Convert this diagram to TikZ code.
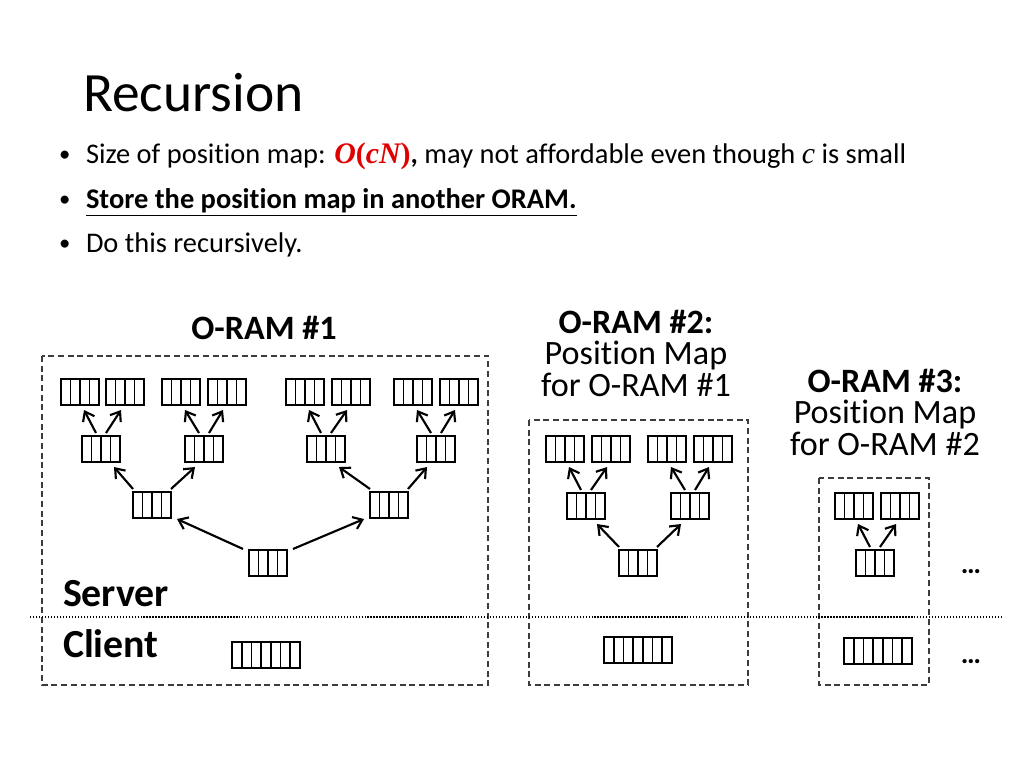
\documentclass[tikz,border=0pt]{standalone}
\usepackage{fontspec}
\setmainfont{Carlito}[Ligatures=NoCommon]
\newfontfamily\serifmath{Liberation Serif}
\usetikzlibrary{calc,arrows.meta}
\definecolor{ored}{RGB}{225,0,0}
\definecolor{boxgray}{RGB}{60,60,60}
\begin{document}
\begin{tikzpicture}[x=0.703125pt,y=-0.703125pt,
  every node/.style={inner sep=0pt,outer sep=0pt},
  bucket/.style={draw,line width=1.3pt,minimum width=26.7pt,minimum height=18.3pt,
    path picture={\foreach \i in {1,2,3}{\draw[line width=1.2pt] ($(path picture bounding box.south west)!\i/4!(path picture bounding box.south east)$) -- ($(path picture bounding box.north west)!\i/4!(path picture bounding box.north east)$);}}},
  stash/.style={draw,line width=1.3pt,minimum width=47.8pt,minimum height=18.3pt,
    path picture={\foreach \i in {1,...,6}{\draw[line width=1.2pt] ($(path picture bounding box.south west)!\i/7!(path picture bounding box.south east)$) -- ($(path picture bounding box.north west)!\i/7!(path picture bounding box.north east)$);}}},
  arr/.style={line width=1.5pt,-{Straight Barb[length=6pt,width=9pt,line width=1.5pt]}},
  frame/.style={draw=boxgray,line width=0.9pt,dash pattern=on 4.2pt off 2.6pt},
  sep/.style={line width=1.4pt,dash pattern=on 1pt off 1.1pt},
  bul/.style={font=\fontsize{20}{24}\selectfont,anchor=base west},
  lab/.style={font=\fontsize{24}{28}\selectfont,anchor=base},
  side/.style={font=\fontsize{28}{32}\selectfont\bfseries,anchor=base west},
  dots/.style={font=\fontsize{20}{24}\selectfont\bfseries,anchor=center}]
\useasboundingbox (0,0) rectangle (1024,768);

% title and bullets
\node[anchor=base west,font=\fontsize{39}{46}\selectfont] (title) at (83,112) {Recursion};
\node[bul,font=\fontsize{16}{20}\selectfont] (d1) at (59,162) {•};
\node[bul] (t1) at (86,164) {Size of position map: {\color{ored}\serifmath\fontsize{21}{24}\selectfont\bfseries\itshape O\upshape(\itshape cN\upshape)}\textbf{,} may not affordable even though {\serifmath\fontsize{21}{24}\selectfont\itshape c} is small};
\node[bul,font=\fontsize{16}{20}\selectfont] (d2) at (59,207) {•};
\node[bul] (t2) at (86,209) {\underline{\textbf{Store the position map in another ORAM.}}};
\node[bul,font=\fontsize{16}{20}\selectfont] (d3) at (59,251) {•};
\node[bul] (t3) at (86,253) {Do this recursively.};

% frames and separator
\draw[frame] (42,356) rectangle (488,685);
\draw[frame] (529,420) rectangle (748,685);
\draw[frame] (819,478) rectangle (929,685);
\coordinate (sl) at (30,617);
\coordinate (sr) at (1002,617);
\draw[sep] (sl) -- (sr);

% labels
\node[lab] (l1) at (264,340) {\textbf{O-RAM \#1}};
\node[lab] (l2a) at (636,333) {\textbf{O-RAM \#2:}};
\node[lab] (l2b) at (636,364) {Position Map};
\node[lab] (l2c) at (636,396) {for O-RAM \#1};
\node[lab] (l3a) at (885,392) {\textbf{O-RAM \#3:}};
\node[lab] (l3b) at (885,423) {Position Map};
\node[lab] (l3c) at (885,455) {for O-RAM \#2};
\node[side] (server) at (63,606) {Server};
\node[side] (client) at (63,657) {Client};
\node[dots] (e1) at (971,572) {…};
\node[dots] (e2) at (971,662) {…};

% O-RAM #1 tree
\node[bucket] (a1) at (80,392) {};
\node[bucket] (a2) at (125,392) {};
\node[bucket] (a3) at (181,392) {};
\node[bucket] (a4) at (227,392) {};
\node[bucket] (a5) at (305,392) {};
\node[bucket] (a6) at (351,392) {};
\node[bucket] (a7) at (413,392) {};
\node[bucket] (a8) at (459,392) {};
\node[bucket] (b1) at (101,449) {};
\node[bucket] (b2) at (204,449) {};
\node[bucket] (b3) at (326,449) {};
\node[bucket] (b4) at (436,449) {};
\node[bucket] (c1) at (152,505) {};
\node[bucket] (c2) at (389,505) {};
\node[bucket] (r1) at (268,563) {};
\node[stash] (s1) at (266,655) {};

\foreach \p/\l/\r in {b1/a1/a2,b2/a3/a4,b3/a5/a6,b4/a7/a8}{
  \draw[arr] ($(\p.north)+(-5,-3)$) -- ($(\l.south)+(4,5)$);
  \draw[arr] ($(\p.north)+(5,-3)$) -- ($(\r.south)+(-4,5)$);
}
\foreach \p/\l/\r in {c1/b1/b2,c2/b3/b4}{
  \draw[arr] ($(\p.north west)+(0,-3)$) -- ($(\l.south east)+(-6,5)$);
  \draw[arr] ($(\p.north east)+(0,-3)$) -- ($(\r.south west)+(10,5)$);
}
\draw[arr] ($(r1.north west)+(-6,-1)$) -- ($(c1.south east)+(6,1)$);
\draw[arr] ($(r1.north east)+(6,-1)$) -- ($(c2.south west)+(-6,1)$);

% O-RAM #2 tree
\node[bucket] (p1) at (565,449) {};
\node[bucket] (p2) at (611,449) {};
\node[bucket] (p3) at (667,449) {};
\node[bucket] (p4) at (713,449) {};
\node[bucket] (q1) at (586,506) {};
\node[bucket] (q2) at (690,506) {};
\node[bucket] (r2) at (638,563) {};
\node[stash] (s2) at (638,650) {};
\foreach \p/\l/\r in {q1/p1/p2,q2/p3/p4}{
  \draw[arr] ($(\p.north)+(-5,-3)$) -- ($(\l.south)+(4,5)$);
  \draw[arr] ($(\p.north)+(5,-3)$) -- ($(\r.south)+(-4,5)$);
}
\draw[arr] ($(r2.north west)+(0,-3)$) -- ($(q1.south east)+(-8,5)$);
\draw[arr] ($(r2.north east)+(0,-3)$) -- ($(q2.south west)+(10,5)$);

% O-RAM #3 tree
\node[bucket] (u1) at (854,506) {};
\node[bucket] (u2) at (900,506) {};
\node[bucket] (r3) at (875,563) {};
\node[stash] (s3) at (878,651) {};
\draw[arr] ($(r3.north)+(-5,-3)$) -- ($(u1.south)+(4,5)$);
\draw[arr] ($(r3.north)+(5,-3)$) -- ($(u2.south)+(-4,5)$);
\end{tikzpicture}
\end{document}
